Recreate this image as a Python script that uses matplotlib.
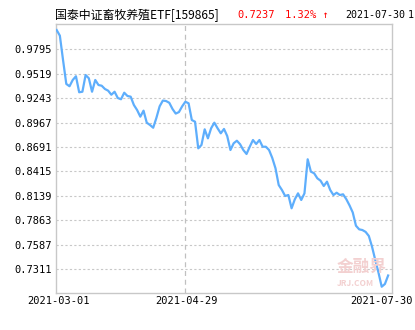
import matplotlib.pyplot as plt
import numpy as np

plt.rcParams['font.family'] = ['Noto Sans CJK SC', 'DejaVu Sans']

# daily nav, 2021-03-01 .. 2021-07-30 (one value per trading day)
nav = [1.0013, 0.9949, 0.9670, 0.9403, 0.9377, 0.9448, 0.9490, 0.9309, 0.9315, 0.9504,
       0.9467, 0.9315, 0.9448, 0.9391, 0.9383, 0.9346, 0.9327, 0.9281, 0.9315, 0.9244,
       0.9230, 0.9304, 0.9267, 0.9259, 0.9165, 0.9108, 0.9033, 0.9101, 0.8965, 0.8939,
       0.8908, 0.9020, 0.9150, 0.9215, 0.9210, 0.9190, 0.9120, 0.9068, 0.9085, 0.9150,
       0.9202, 0.9184, 0.8995, 0.8976, 0.8675, 0.8713, 0.8890, 0.8788, 0.8902, 0.8965,
       0.8902, 0.8845, 0.8894, 0.8814, 0.8656, 0.8732, 0.8761, 0.8721, 0.8656, 0.8611,
       0.8693, 0.8769, 0.8724, 0.8769, 0.8693, 0.8693, 0.8656, 0.8566, 0.8449, 0.8260,
       0.8204, 0.8136, 0.8147, 0.7997, 0.8098, 0.8166, 0.8091, 0.8166, 0.8551, 0.8411,
       0.8393, 0.8336, 0.8309, 0.8249, 0.8298, 0.8204, 0.8147, 0.8173, 0.8147, 0.8155,
       0.8100, 0.8030, 0.7950, 0.7800, 0.7759, 0.7751, 0.7730, 0.7684, 0.7562, 0.7412,
       0.7270, 0.7110, 0.7141, 0.7237]
yticks = [0.9795, 0.9519, 0.9243, 0.8967, 0.8691, 0.8415, 0.8139, 0.7863, 0.7587, 0.7311]
date_labels = ['2021-03-01', '2021-04-29', '2021-07-30']
date_pos = [0, 40, 104]

title = '国泰中证畜牧养殖ETF[159865]'
last_nav = '0.7237'
change = '1.32% ↑'
last_date = '2021-07-30'

x = np.arange(len(nav))

fig = plt.figure(figsize=(4.15, 3.3), dpi=100)
ax = fig.add_axes([56/415, 1-293/330, 336/415, 269/330])

ax.plot(x, nav, color='#5eaefc', lw=1.6, zorder=3)
ax.set_xlim(-0.2, 104.2)
ax.set_ylim(0.7039, 1.0081)

for v in yticks:
    ax.axhline(v, color='#c8c8c8', lw=0.8, ls=(0, (2, 2)), zorder=1)
ax.axvline(date_pos[1], color='#c0c0c0', lw=0.9, ls=(0, (4, 3)), zorder=1)

ax.set_yticks(yticks)
ax.set_yticklabels([f'{v:.4f}' for v in yticks], fontsize=7.5, family='DejaVu Sans Mono')
ax.set_xticks([])
ax.tick_params(axis='y', length=0, pad=3)
for s in ax.spines.values():
    s.set_color('#c8c8c8')
    s.set_linewidth(1)

# date labels under the axis
xs = [58, 186, 381]
for px, lab in zip(xs, date_labels):
    fig.text(px/415, 1-301.5/330, lab, ha='center', va='center', fontsize=7.5,
             family='DejaVu Sans Mono')

# header line
fig.text(55/415, 1-15/330, title, ha='left', va='center', fontsize=8.6, color='black')
fig.text(237/415, 1-15/330, last_nav, ha='left', va='center', fontsize=7.5,
         color='#ff0000', family='DejaVu Sans Mono')
fig.text(285/415, 1-15/330, change, ha='left', va='center', fontsize=7.5,
         color='#ff0000', family='DejaVu Sans Mono')
fig.text(345/415, 1-15/330, last_date, ha='left', va='center', fontsize=7.2,
         color='black', family='DejaVu Sans Mono')
fig.text(414/415, 1-15/330, '1', ha='right', va='center', fontsize=7.2,
         color='black', family='DejaVu Sans Mono')

# faint watermark
fig.text(362/415, 1-267/330, '金融界', ha='center', va='center', fontsize=12,
         color='#f3d0d0', weight='bold', zorder=0)
fig.text(355/415, 1-284/330, 'JRJ.COM', ha='center', va='center', fontsize=6,
         color='#f3d0d0', style='italic', weight='bold', zorder=0)

fig.savefig('out.png', dpi=100)
